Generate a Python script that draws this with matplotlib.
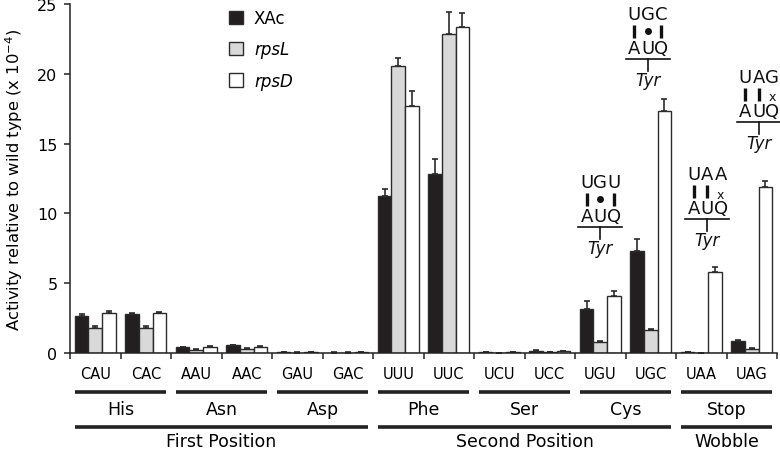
import matplotlib
matplotlib.use('Agg')
import matplotlib.pyplot as plt
import numpy as np
from matplotlib.transforms import Affine2D, ScaledTranslation, blended_transform_factory

# Data (activity relative to wild type, x 1e-4)
codons = ['CAU', 'CAC', 'AAU', 'AAC', 'GAU', 'GAC', 'UUU', 'UUC', 'UCU', 'UCC', 'UGU', 'UGC', 'UAA', 'UAG']
amino_acids = ['His', 'Asn', 'Asp', 'Phe', 'Ser', 'Cys', 'Stop']
positions = ['First Position', 'Second Position', 'Wobble']
position_spans = [(0, 5), (6, 11), (12, 13)]  # first/last codon index of each position group

xac = [2.63, 2.79, 0.40, 0.55, 0.04, 0.03, 11.25, 12.8, 0.04, 0.15, 3.15, 7.33, 0.05, 0.86]
xac_err = [0.15, 0.06, 0.02, 0.02, 0.01, 0.01, 0.50, 1.10, 0.01, 0.05, 0.57, 0.84, 0.01, 0.06]
rpsl = [1.80, 1.78, 0.20, 0.31, 0.03, 0.03, 20.56, 22.85, 0.02, 0.04, 0.81, 1.67, 0.02, 0.29]
rpsl_err = [0.13, 0.15, 0.08, 0.03, 0.01, 0.01, 0.57, 1.55, 0.01, 0.01, 0.07, 0.05, 0.01, 0.10]
rpsd = [2.86, 2.86, 0.45, 0.45, 0.05, 0.05, 17.7, 23.35, 0.04, 0.12, 4.08, 17.34, 5.80, 11.9]
rpsd_err = [0.15, 0.05, 0.02, 0.02, 0.01, 0.01, 1.05, 1.00, 0.01, 0.02, 0.37, 0.86, 0.36, 0.43]

series = [('XAc', xac, xac_err, '#231f20'),
          ('rpsL', rpsl, rpsl_err, '#d9d9d9'),
          ('rpsD', rpsd, rpsd_err, '#ffffff')]

# codon:anticodon pairing diagrams (codon index, top letters, marks)
diagrams = [(10, 'UGU', '|.|'), (11, 'UGC', '|.|'), (12, 'UAA', '||x'), (13, 'UAG', '||x')]
diagram_pos = [(0, 12.25), (-3, 24.3), (6, 12.8), (7, 19.8)]  # (x pixel shift, y data value of top row)

W, H = 780, 452
fig = plt.figure(figsize=(W / 100, H / 100), dpi=100)
ax = fig.add_axes([70 / W, 98 / H, 707 / W, 349 / H])

x = np.arange(len(codons))
width = 0.27
dark = '#2b2b2b'
for i, (name, vals, errs, color) in enumerate(series):
    pos = x + (i - 1) * width
    ax.bar(pos, vals, width, color=color, edgecolor=dark, linewidth=1.0, label=name, zorder=2)
    ax.errorbar(pos, vals, yerr=[np.zeros(len(errs)), errs], fmt='none', ecolor=dark,
                elinewidth=1.2, capsize=2.5, capthick=1.2, zorder=1)

ax.set_xlim(-0.5, len(codons) - 0.5)
ax.set_ylim(0, 25)
ax.set_yticks([0, 5, 10, 15, 20, 25])
ax.set_xticks(np.arange(-0.5, len(codons), 1.0))
ax.set_xticklabels([])
for side in ['top', 'right']:
    ax.spines[side].set_visible(False)
for side in ['left', 'bottom']:
    ax.spines[side].set_linewidth(1.1)
    ax.spines[side].set_color('#222222')
ax.tick_params(axis='y', direction='out', length=4, width=1.1, color='#222222', labelsize=11.5, pad=5)
ax.tick_params(axis='x', direction='out', length=4, width=1.1, color='#222222')
ax.set_ylabel('Activity relative to wild type (x 10$^{-4}$)', fontsize=11.8, labelpad=9)

leg = ax.legend(loc='upper left', bbox_to_anchor=(229 / W, 1 - 10 / H), bbox_transform=fig.transFigure,
                frameon=False, fontsize=12, handlelength=0.85, handleheight=0.85,
                handletextpad=0.65, labelspacing=0.8, borderpad=0, borderaxespad=0)
for t in leg.get_texts()[1:]:
    t.set_style('italic')

# Codon / amino acid / position labels below the axis
trans = blended_transform_factory(ax.transData, fig.transFigure)
def fy(py):
    return 1 - py / H

gap = 0.09
for i, c in enumerate(codons):
    ax.text(i, fy(375), c, transform=trans, ha='center', va='center', fontsize=10.5)
for k, aa in enumerate(amino_acids):
    a, b = 2 * k, 2 * k + 1
    ax.plot([a - 0.5 + gap, b + 0.5 - gap], [fy(393), fy(393)], transform=trans,
            color='#222222', lw=2.6, solid_capstyle='butt', clip_on=False)
    ax.text((a + b) / 2, fy(410), aa, transform=trans, ha='center', va='center', fontsize=12.5)
for name, (a, b) in zip(positions, position_spans):
    ax.plot([a - 0.5 + gap, b + 0.5 - gap], [fy(428), fy(428)], transform=trans,
            color='#222222', lw=2.6, solid_capstyle='butt', clip_on=False)
    ax.text((a + b) / 2, fy(442), name, transform=trans, ha='center', va='center', fontsize=12.5)

# Pairing diagrams, drawn in pixel offsets around an anchor point
for (idx, letters, marks), (shift, ytop) in zip(diagrams, diagram_pos):
    tr = Affine2D().scale(1, -1).translate(shift, 0) + ScaledTranslation(idx, ytop, ax.transData)
    for j, (top, mark) in enumerate(zip(letters, marks)):
        dx = (j - 1) * 13.5
        ax.text(dx, 0, top, transform=tr, ha='center', va='center', fontsize=13, color='#111111')
        ax.text(dx, 34, 'AUQ'[j], transform=tr, ha='center', va='center', fontsize=13, color='#111111')
        if mark == '|':
            ax.plot([dx, dx], [11, 24], transform=tr, color='#111111', lw=2.4,
                    solid_capstyle='butt', clip_on=False)
        elif mark == '.':
            ax.plot([dx], [17.5], 'o', transform=tr, color='#111111', ms=4, clip_on=False)
        else:
            ax.text(dx, 20, 'x', transform=tr, ha='center', va='center', fontsize=9, color='#111111')
    ax.plot([-22, 22], [45, 45], transform=tr, color='#111111', lw=1.2, clip_on=False)
    ax.plot([0, 0], [45, 57], transform=tr, color='#111111', lw=1.2, clip_on=False)
    ax.text(0, 66, 'Tyr', transform=tr, ha='center', va='center', fontsize=12, style='italic',
            color='#111111')

ax.set_xlim(-0.5, len(codons) - 0.5)
ax.set_ylim(0, 25)
fig.savefig('out.png', dpi=100)
